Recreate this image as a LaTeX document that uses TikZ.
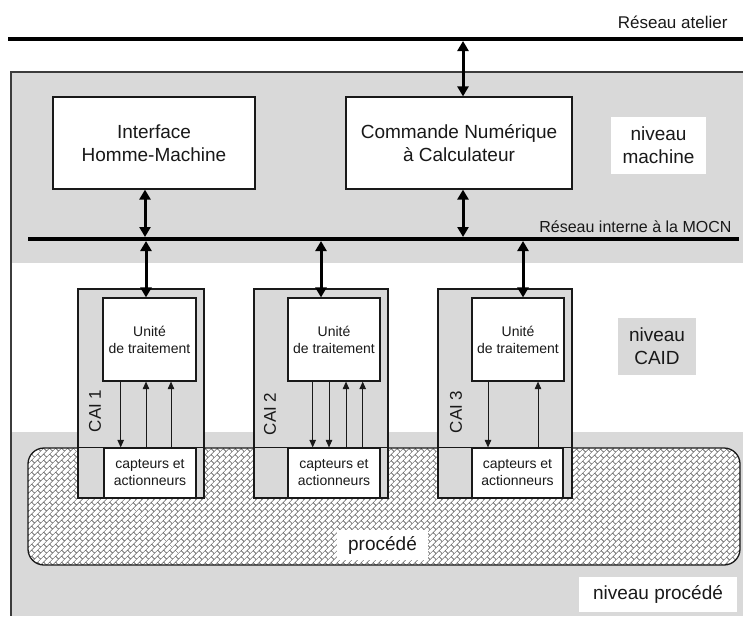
\documentclass[tikz,border=0pt]{standalone}
\usepackage{fontspec}
\setmainfont{Liberation Sans}
\usetikzlibrary{arrows.meta,patterns.meta}

\definecolor{levelgray}{RGB}{217,217,217}
\definecolor{framegray}{RGB}{60,60,60}
\definecolor{hatchgray}{RGB}{100,100,100}
\definecolor{inkblack}{RGB}{25,25,25}

% diagonal brick hatching for the process area
\tikzdeclarepattern{
  name=diagbricks,
  type=uncolored,
  bottom left={(0pt,0pt)},
  top right={(9pt,9pt)},
  tile size={(9pt,9pt)},
  tile transformation={rotate=45},
  code={
    \draw[line width=0.65pt]
      (0pt,2.25pt) -- (9pt,2.25pt)
      (0pt,6.75pt) -- (9pt,6.75pt)
      (2.25pt,2.25pt) -- (2.25pt,6.75pt)
      (6.75pt,6.75pt) -- (6.75pt,9pt)
      (6.75pt,0pt) -- (6.75pt,2.25pt);
  }
}

\begin{document}
\begin{tikzpicture}[
  x=1pt, y=-1pt,
  every node/.style={text=inkblack},
  bigtxt/.style={font={\fontsize{19}{23}\selectfont}, align=center},
  smalltxt/.style={font={\fontsize{14}{17}\selectfont}, align=center},
  whitebox/.style={draw=inkblack, line width=1.2pt, fill=white, inner sep=0pt},
  caibox/.style={draw=inkblack, line width=1.2pt, fill=levelgray, inner sep=0pt},
  levellabel/.style={bigtxt, inner sep=0pt},
  bus/.style={line width=4pt, draw=black},
  bigarrow/.style={line width=3pt, draw=black,
    {Triangle[width=11pt,length=10pt]}-{Triangle[width=11pt,length=10pt]}},
  sigarrow/.style={line width=0.9pt, draw=inkblack, -{Triangle[width=6.5pt,length=7.5pt]}},
]
\useasboundingbox (0,0) rectangle (743,616);

% level bands and frame
\fill[levelgray] (11,72) rectangle (743,263);
\fill[levelgray] (11,432) rectangle (743,616);
\draw[framegray, line width=1.2pt] (743,72) -- (11,72) -- (11,616);

% workshop network
\coordinate (atL) at (8,39);
\coordinate (atR) at (743,39);
\draw[bus] (atL) -- (atR);
\node[font={\fontsize{17}{20}\selectfont}, anchor=base east] (atlab) at (731,28) {Réseau atelier};

% machine level
\node[whitebox, bigtxt, minimum width=202pt, minimum height=92pt] (ihm) at (154,143)
  {Interface\\Homme-Machine};
\node[whitebox, bigtxt, minimum width=226pt, minimum height=92pt] (cnc) at (459,143)
  {Commande Numérique\\à Calculateur};
\node[levellabel, fill=white, minimum width=95pt, minimum height=57pt] (lvm) at (658.5,145.5)
  {niveau\\machine};

% internal network
\coordinate (inL) at (28,239);
\coordinate (inR) at (739,239);
\draw[bus] (inL) -- (inR);
\node[font={\fontsize{16}{19}\selectfont}, anchor=base east] (inlab) at (735,232) {Réseau interne à la MOCN};

% process area
\path[draw=inkblack, line width=1.3pt, rounded corners=16pt,
      preaction={fill=white}, pattern=diagbricks, pattern color=hatchgray]
  (28,448) rectangle (740,565);
\node[levellabel, fill=white, minimum width=91pt, minimum height=30pt] (proc) at (382.5,545) {procédé};
\node[levellabel, fill=white, minimum width=158pt, minimum height=35pt] (lvp) at (658,594.5) {niveau procédé};

% CAID level
\node[levellabel, fill=levelgray, minimum width=78pt, minimum height=57pt] (lvc) at (657,346.5)
  {niveau\\CAID};

\node[caibox, minimum width=126pt, minimum height=209pt] (cai1) at (141,393.5) {};
\node[caibox, minimum width=134pt, minimum height=209pt] (cai2) at (321,393.5) {};
\node[caibox, minimum width=134pt, minimum height=209pt] (cai3) at (505,393.5) {};

\node[whitebox, smalltxt, minimum width=93pt, minimum height=83pt] (ut1) at (149.5,339.5) {Unité\\de traitement};
\node[whitebox, smalltxt, minimum width=92pt, minimum height=83pt] (ut2) at (334,339.5) {Unité\\de traitement};
\node[whitebox, smalltxt, minimum width=92pt, minimum height=83pt] (ut3) at (518,339.5) {Unité\\de traitement};

\node[whitebox, smalltxt, minimum width=92pt, minimum height=50pt] (cap1) at (150,473) {capteurs et\\actionneurs};
\node[whitebox, smalltxt, minimum width=92pt, minimum height=50pt] (cap2) at (334,473) {capteurs et\\actionneurs};
\node[whitebox, smalltxt, minimum width=91pt, minimum height=50pt] (cap3) at (517.5,473) {capteurs et\\actionneurs};

\foreach \c in {1,2,3} {
  \draw[inkblack, line width=1.2pt] (cai\c.west |- cap\c.north) -- (cai\c.east |- cap\c.north);
}

\node[font={\fontsize{17}{20}\selectfont}, rotate=90] (lab1) at (95,411) {CAI 1};
\node[font={\fontsize{17}{20}\selectfont}, rotate=90] (lab2) at (270,414) {CAI 2};
\node[font={\fontsize{17}{20}\selectfont}, rotate=90] (lab3) at (456,412) {CAI 3};

% signal lines between processing units and sensors/actuators
\coordinate (s11) at (120.7,0);
\coordinate (s12) at (146,0);
\coordinate (s13) at (171,0);
\draw[sigarrow] (s11 |- ut1.south) -- (s11 |- cap1.north);
\draw[sigarrow] (s12 |- cap1.north) -- (s12 |- ut1.south);
\draw[sigarrow] (s13 |- cap1.north) -- (s13 |- ut1.south);

\coordinate (s21) at (312.7,0);
\coordinate (s22) at (329,0);
\coordinate (s23) at (346,0);
\coordinate (s24) at (362.7,0);
\draw[sigarrow] (s21 |- ut2.south) -- (s21 |- cap2.north);
\draw[sigarrow] (s22 |- ut2.south) -- (s22 |- cap2.north);
\draw[sigarrow] (s23 |- cap2.north) -- (s23 |- ut2.south);
\draw[sigarrow] (s24 |- cap2.north) -- (s24 |- ut2.south);

\coordinate (s31) at (488,0);
\coordinate (s32) at (538,0);
\draw[sigarrow] (s31 |- ut3.south) -- (s31 |- cap3.north);
\draw[sigarrow] (s32 |- cap3.north) -- (s32 |- ut3.south);

% network links
\coordinate (ka) at (463,41);
\draw[bigarrow] (ka) -- (ka |- cnc.north);
\coordinate (kb) at (463,237);
\draw[bigarrow] (kb |- cnc.south) -- (kb);
\coordinate (kc) at (145,237);
\draw[bigarrow] (kc |- ihm.south) -- (kc);
\coordinate (k1) at (146,241);
\draw[bigarrow] (k1) -- (k1 |- ut1.north);
\coordinate (k2) at (321,241);
\draw[bigarrow] (k2) -- (k2 |- ut2.north);
\coordinate (k3) at (523,241);
\draw[bigarrow] (k3) -- (k3 |- ut3.north);
\end{tikzpicture}
\end{document}
